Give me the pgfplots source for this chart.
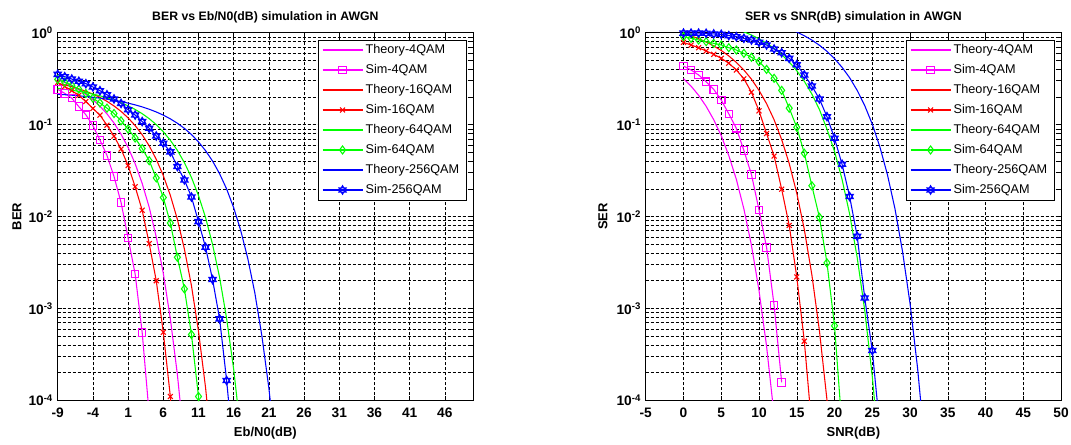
\documentclass[border=0pt]{standalone}
\usepackage{fontspec}
\setmainfont{Liberation Sans}
\usepackage{pgfplots}
\pgfplotsset{compat=1.18}

\pgfdeclareplotmark{hexagram}{%
  \pgfpathmoveto{\pgfqpointpolar{90}{\pgfplotmarksize}}%
  \pgfpathlineto{\pgfqpointpolar{210}{\pgfplotmarksize}}%
  \pgfpathlineto{\pgfqpointpolar{330}{\pgfplotmarksize}}%
  \pgfpathclose
  \pgfpathmoveto{\pgfqpointpolar{270}{\pgfplotmarksize}}%
  \pgfpathlineto{\pgfqpointpolar{30}{\pgfplotmarksize}}%
  \pgfpathlineto{\pgfqpointpolar{150}{\pgfplotmarksize}}%
  \pgfpathclose
  \pgfusepathqstroke}

\definecolor{mmag}{rgb}{1,0,1}
\definecolor{mred}{rgb}{1,0,0}
\definecolor{mgreen}{rgb}{0,1,0}
\definecolor{mblue}{rgb}{0,0,1}

\pgfplotsset{
  thmag/.style={color=mmag, line width=0.8pt, no marks},
  simmag/.style={color=mmag, line width=0.8pt, mark=square, mark size=2.8pt, mark options={solid}},
  thred/.style={color=mred, line width=0.8pt, no marks},
  simred/.style={color=mred, line width=0.8pt, mark=x, mark size=2.6pt, mark options={solid}},
  thgreen/.style={color=mgreen, line width=0.8pt, no marks},
  simgreen/.style={color=mgreen, line width=0.8pt, mark=diamond, mark size=3pt, mark options={solid}},
  thblue/.style={color=mblue, line width=0.8pt, no marks},
  simblue/.style={color=mblue, line width=0.8pt, mark=hexagram, mark size=3.2pt, mark options={solid}},
}

\begin{document}
\begin{tikzpicture}
\useasboundingbox (0,0) rectangle (803.25pt,333pt);

% ---------------- Left: BER ----------------
\begin{axis}[
  at={(43.28pt,32.78pt)}, anchor=south west,
  scale only axis, width=311.5pt, height=275.7pt,
  ymode=log, ymin=1e-4, ymax=1,
  ytick={1e-4,1e-3,1e-2,1e-1,1},
  yticklabels={10\textsuperscript{-4},10\textsuperscript{-3},10\textsuperscript{-2},10\textsuperscript{-1},10\textsuperscript{0}},
  xmin=-9, xmax=50,
  xtick={-9,-4,1,6,11,16,21,26,31,36,41,46},
  xticklabels={-9,-4,1,6,11,16,21,26,31,36,41,46},
  tick label style={font=\fontsize{10.3}{12}\selectfont\bfseries},
  xticklabel style={anchor=base, yshift=-13pt},
  label style={font=\fontsize{9.75}{11}\selectfont\bfseries},
  title style={font=\fontsize{9.2}{11}\selectfont\bfseries, at={(axis description cs:0.5,1)}, anchor=base, yshift=3.2pt},
  xlabel style={at={(axis description cs:0.5,0)}, anchor=base, yshift=-27pt},
  ylabel style={at={(axis description cs:-0.098,0.5)}, anchor=center},
  title={BER vs Eb/N0(dB) simulation in AWGN},
  xlabel={Eb/N0(dB)},
  ylabel={BER},
  xmajorgrids, ymajorgrids, yminorgrids,
  major grid style={black, line width=0.4pt, dash pattern=on 2.25pt off 1.5pt},
  minor grid style={black, line width=0.4pt, dash pattern=on 2.25pt off 1.5pt},
  major tick length=3.5pt, minor tick length=2pt,
  tick style={black, line width=0.4pt},
  axis line style={black, line width=0.5pt},
  legend cell align=left,
  legend style={at={(1,1)}, anchor=north east, xshift=-5.25pt, yshift=-5.25pt,
    font=\fontsize{9.5}{11}\selectfont, draw=black, fill=white,
    inner xsep=3pt, inner ysep=0pt,
    nodes={inner ysep=2.5pt, inner xsep=1.9pt, text height=7.5pt, text depth=2.5pt},
    row sep=0pt},
  legend image code/.code={\draw[mark repeat=2,mark phase=2] plot coordinates {(0pt,0pt) (15pt,0pt) (30pt,0pt)};},
]
\addplot[thmag] coordinates {(-9,0.3079)(-8,0.2870)(-7,0.2641)(-6,0.2394)(-5,0.2133)(-4,0.1862)(-3,0.1584)(-2,0.1309)(-1,0.1040)(0,0.0786)(1,0.0564)(2,0.0376)(3,0.0229)(4,0.01258)(5,0.00598)(6,0.00241)(7,0.000773)(8,0.000191)(9,3.36e-5)};
\addlegendentry{Theory-4QAM}
\addplot[simmag] coordinates {(-9,0.242)(-8,0.219)(-7,0.194)(-6,0.157)(-5,0.128)(-4,0.0975)(-3,0.068)(-2,0.0462)(-1,0.0272)(0,0.0142)(1,0.00585)(2,0.00237)(3,0.000547)(4,7e-5)};
\addlegendentry{Sim-4QAM}
\addplot[thred] coordinates {(-9,0.2817)(-8,0.2708)(-7,0.2586)(-6,0.2454)(-5,0.2306)(-4,0.2149)(-3,0.1977)(-2,0.1791)(-1,0.1595)(0,0.1393)(1,0.1184)(2,0.0977)(3,0.0776)(4,0.0587)(5,0.0419)(6,0.0279)(7,0.0170)(8,0.00931)(9,0.00442)(10,0.00177)(11,0.000564)(12,0.000138)(13,2.43e-5)};
\addlegendentry{Theory-16QAM}
\addplot[simred] coordinates {(-9,0.288)(-8,0.26)(-7,0.234)(-6,0.208)(-5,0.178)(-4,0.150)(-3,0.127)(-2,0.0985)(-1,0.0748)(0,0.0542)(1,0.0358)(2,0.0211)(3,0.0117)(4,0.00507)(5,0.0020)(6,0.00055)(7,0.00011)(8,1e-5)};
\addlegendentry{Sim-16QAM}
\addplot[thgreen] coordinates {(-9,0.2477)(-8,0.2425)(-7,0.2367)(-6,0.2301)(-5,0.2228)(-4,0.2147)(-3,0.2057)(-2,0.1958)(-1,0.1849)(0,0.1731)(1,0.1601)(2,0.1463)(3,0.1315)(4,0.1160)(5,0.0999)(6,0.0836)(7,0.0675)(8,0.0525)(9,0.0385)(10,0.0266)(11,0.0169)(12,0.00977)(13,0.00496)(14,0.00217)(15,0.000772)(16,0.000217)(17,4.49e-5)};
\addlegendentry{Theory-64QAM}
\addplot[simgreen] coordinates {(-9,0.31)(-8,0.29)(-7,0.268)(-6,0.243)(-5,0.218)(-4,0.194)(-3,0.172)(-2,0.151)(-1,0.132)(0,0.110)(1,0.0895)(2,0.0715)(3,0.0548)(4,0.0405)(5,0.0263)(6,0.0161)(7,0.0085)(8,0.0036)(9,0.00163)(10,0.00052)(11,0.00011)(12,1e-5)};
\addlegendentry{Sim-64QAM}
\addplot[thblue] coordinates {(-9,0.2141)(-8,0.2116)(-7,0.2089)(-6,0.2058)(-5,0.2023)(-4,0.1984)(-3,0.1941)(-2,0.1893)(-1,0.1839)(0,0.1779)(1,0.1713)(2,0.1640)(3,0.1559)(4,0.1470)(5,0.1373)(6,0.1268)(7,0.1155)(8,0.1035)(9,0.0909)(10,0.0780)(11,0.0648)(12,0.0521)(13,0.0401)(14,0.0292)(15,0.0199)(16,0.01246)(17,0.00704)(18,0.00350)(19,0.00148)(20,0.000505)(21,0.0001353)(22,2.63e-5)};
\addlegendentry{Theory-256QAM}
\addplot[simblue] coordinates {(-9,0.352)(-8,0.332)(-7,0.313)(-6,0.296)(-5,0.279)(-4,0.257)(-3,0.234)(-2,0.211)(-1,0.19)(0,0.170)(1,0.145)(2,0.127)(3,0.108)(4,0.0912)(5,0.0752)(6,0.0627)(7,0.0505)(8,0.0350)(9,0.0250)(10,0.0163)(11,0.0088)(12,0.00463)(13,0.00206)(14,0.00077)(15,0.000164)(16,2.5e-5)};
\addlegendentry{Sim-256QAM}
\end{axis}

% ---------------- Right: SER ----------------
\begin{axis}[
  at={(484.3pt,32.78pt)}, anchor=south west,
  scale only axis, width=311.5pt, height=275.7pt,
  ymode=log, ymin=1e-4, ymax=1,
  ytick={1e-4,1e-3,1e-2,1e-1,1},
  yticklabels={10\textsuperscript{-4},10\textsuperscript{-3},10\textsuperscript{-2},10\textsuperscript{-1},10\textsuperscript{0}},
  xmin=-5, xmax=50,
  xtick={-5,0,5,10,15,20,25,30,35,40,45,50},
  xticklabels={-5,0,5,10,15,20,25,30,35,40,45,50},
  tick label style={font=\fontsize{10.3}{12}\selectfont\bfseries},
  xticklabel style={anchor=base, yshift=-13pt},
  label style={font=\fontsize{9.75}{11}\selectfont\bfseries},
  title style={font=\fontsize{9.2}{11}\selectfont\bfseries, at={(axis description cs:0.5,1)}, anchor=base, yshift=3.2pt},
  xlabel style={at={(axis description cs:0.5,0)}, anchor=base, yshift=-27pt},
  ylabel style={at={(axis description cs:-0.103,0.5)}, anchor=center},
  title={SER vs SNR(dB) simulation in AWGN},
  xlabel={SNR(dB)},
  ylabel={SER},
  xmajorgrids, ymajorgrids, yminorgrids,
  major grid style={black, line width=0.4pt, dash pattern=on 2.25pt off 1.5pt},
  minor grid style={black, line width=0.4pt, dash pattern=on 2.25pt off 1.5pt},
  major tick length=3.5pt, minor tick length=2pt,
  tick style={black, line width=0.4pt},
  axis line style={black, line width=0.5pt},
  legend cell align=left,
  legend style={at={(1,1)}, anchor=north east, xshift=-5.25pt, yshift=-5.25pt,
    font=\fontsize{9.5}{11}\selectfont, draw=black, fill=white,
    inner xsep=3pt, inner ysep=0pt,
    nodes={inner ysep=2.5pt, inner xsep=1.9pt, text height=7.5pt, text depth=2.5pt},
    row sep=0pt},
  legend image code/.code={\draw[mark repeat=2,mark phase=2] plot coordinates {(0pt,0pt) (15pt,0pt) (30pt,0pt)};},
]
\addplot[thmag] coordinates {(0,0.3173)(1,0.2623)(2,0.2086)(3,0.1581)(4,0.1132)(5,0.0756)(6,0.0460)(7,0.02534)(8,0.01206)(9,0.00486)(10,0.001565)(11,0.000388)(12,6.86e-5)};
\addlegendentry{Theory-4QAM}
\addplot[simmag] coordinates {(0,0.434)(1,0.393)(2,0.347)(3,0.293)(4,0.242)(5,0.185)(6,0.131)(7,0.0912)(8,0.0522)(9,0.0286)(10,0.0118)(11,0.00462)(12,0.00108)(13,1.57e-4)};
\addlegendentry{Sim-4QAM}
\addplot[thred] coordinates {(0,0.9829)(1,0.9237)(2,0.8609)(3,0.7922)(4,0.7181)(5,0.6401)(6,0.5587)(7,0.4753)(8,0.3928)(9,0.3120)(10,0.2358)(11,0.1692)(12,0.1128)(13,0.0687)(14,0.03774)(15,0.01794)(16,0.00723)(17,0.00232)(18,0.000573)(19,0.000101)(20,1.16e-5)};
\addlegendentry{Theory-16QAM}
\addplot[simred] coordinates {(0,0.785)(1,0.735)(2,0.687)(3,0.632)(4,0.582)(5,0.526)(6,0.466)(7,0.393)(8,0.315)(9,0.225)(10,0.141)(11,0.080)(12,0.0455)(13,0.0198)(14,0.0080)(15,0.0022)(16,0.00044)(17,5e-5)};
\addlegendentry{Sim-16QAM}
\addplot[thgreen] coordinates {(0,1.448)(1,1.412)(2,1.371)(3,1.327)(4,1.277)(5,1.222)(6,1.161)(7,1.094)(8,1.022)(9,0.9432)(10,0.8582)(11,0.7686)(12,0.6748)(13,0.5779)(14,0.4802)(15,0.3854)(16,0.2958)(17,0.2149)(18,0.1459)(19,0.0892)(20,0.05113)(21,0.02533)(22,0.01065)(23,0.00359)(24,0.000951)(25,0.000182)(26,2.35e-5)};
\addlegendentry{Theory-64QAM}
\addplot[simgreen] coordinates {(0,0.905)(1,0.869)(2,0.833)(3,0.798)(4,0.766)(5,0.735)(6,0.687)(7,0.648)(8,0.596)(9,0.540)(10,0.484)(11,0.399)(12,0.319)(13,0.236)(14,0.151)(15,0.0935)(16,0.0488)(17,0.0216)(18,0.0098)(19,0.00313)(20,0.000647)(21,5e-5)};
\addlegendentry{Sim-64QAM}
\addplot[thblue] coordinates {(0,1.713)(1,1.694)(2,1.671)(3,1.647)(4,1.619)(5,1.588)(6,1.554)(7,1.515)(8,1.472)(9,1.425)(10,1.372)(11,1.314)(12,1.249)(13,1.178)(14,1.101)(15,1.017)(16,0.9263)(17,0.8310)(18,0.7305)(19,0.6270)(20,0.5220)(21,0.4200)(22,0.3236)(23,0.2358)(24,0.1609)(25,0.1012)(26,0.05745)(27,0.02865)(28,0.01219)(29,0.00419)(30,0.001131)(31,0.000223)(32,2.96e-5)};
\addlegendentry{Theory-256QAM}
\addplot[simblue] coordinates {(0,0.99)(1,0.99)(2,0.99)(3,0.985)(4,0.97)(5,0.96)(6,0.93)(7,0.905)(8,0.869)(9,0.833)(10,0.786)(11,0.735)(12,0.665)(13,0.606)(14,0.526)(15,0.449)(16,0.347)(17,0.263)(18,0.19)(19,0.122)(20,0.071)(21,0.037)(22,0.0165)(23,0.0061)(24,0.0013)(25,0.000348)(26,5e-5)};
\addlegendentry{Sim-256QAM}
\end{axis}
\end{tikzpicture}
\end{document}
